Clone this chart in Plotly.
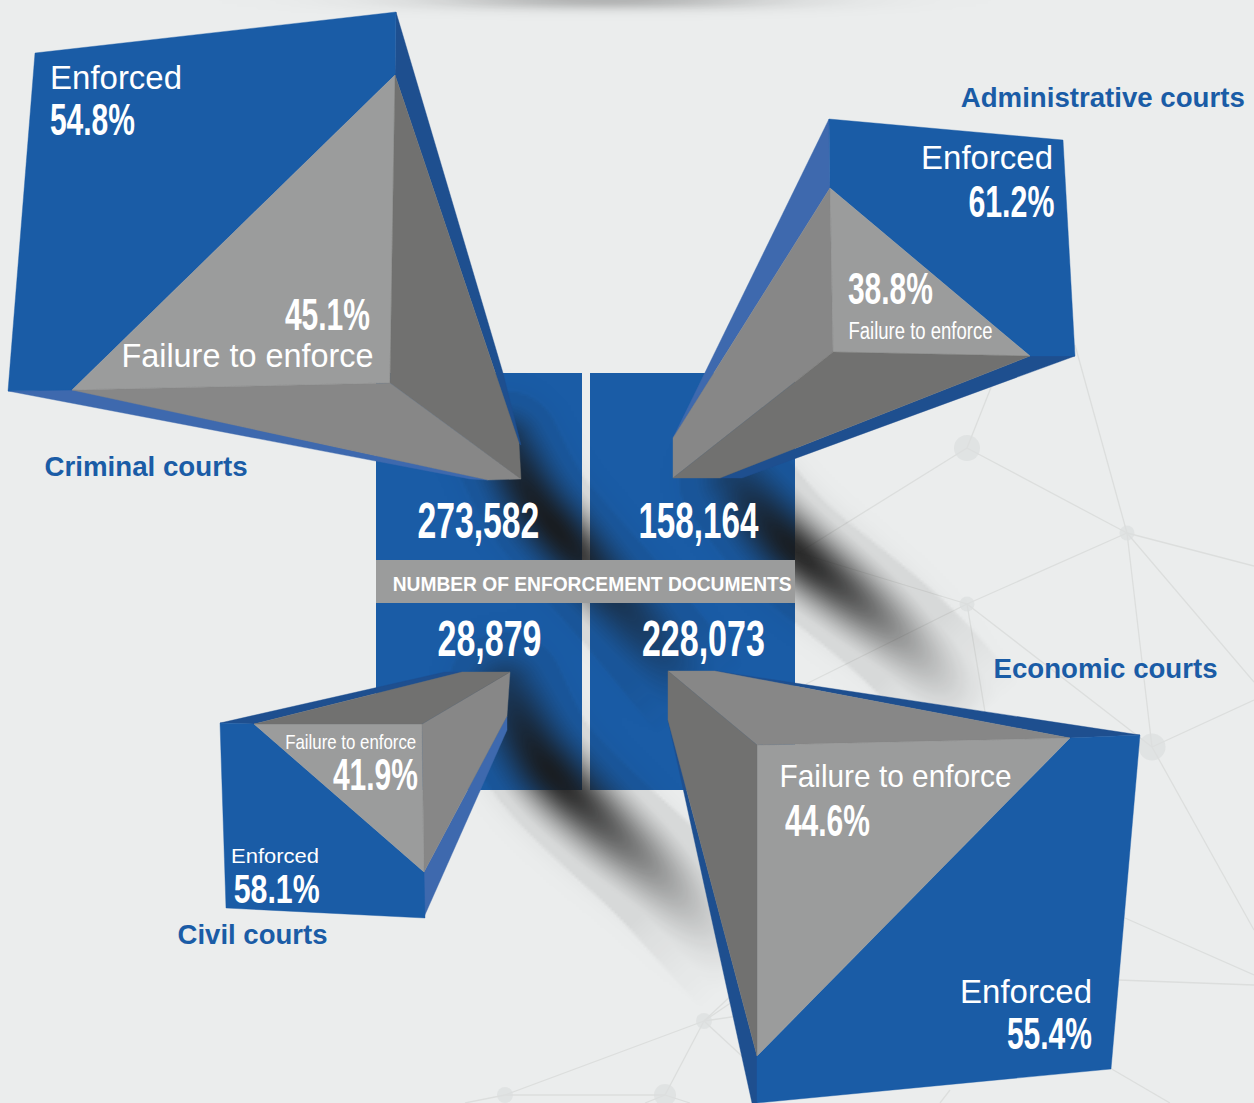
import json
import numpy as np
import plotly.graph_objects as go

# ---- Chart values ----
courts = ["Criminal courts", "Administrative courts", "Civil courts", "Economic courts"]
documents = ["273,582", "158,164", "28,879", "228,073"]
enforced_pct = ["54.8%", "61.2%", "58.1%", "55.4%"]
failure_pct = ["45.1%", "38.8%", "41.9%", "44.6%"]
band_title = "NUMBER OF ENFORCEMENT DOCUMENTS"
enforced_label = "Enforced"
failure_label = "Failure to enforce"

W, H = 1254, 1103
BG = "#ebeded"
BLUE = "#1a5ca6"
DKBLUE = "#1e4f8f"
LTBLUE = "#3e69ae"
G1 = "#9b9c9c"
G2 = "#878787"
G3 = "#717170"
NET = "#dcdedd"
NODE = "#dcdede"
TXT = "Liberation Sans, sans-serif"

# ---- Decorative network behind the chart ----
net_nodes = [(967, 448, 26), (1127, 533, 15), (967, 604, 15), (1152, 747, 27),
             (704, 1021, 16), (505, 1095, 16), (665, 1095, 22)]
net_links = [((967, 448), (992, 385)), ((967, 448), (800, 552)), ((967, 448), (1127, 533)),
             ((1127, 533), (1075, 345)), ((1127, 533), (1254, 566)), ((1127, 533), (1152, 747)),
             ((1127, 533), (1254, 682)), ((1127, 533), (967, 604)), ((967, 604), (796, 552)),
             ((967, 604), (806, 684)), ((967, 604), (985, 712)), ((967, 604), (1152, 747)),
             ((1152, 747), (1254, 700)), ((1152, 747), (1254, 930)), ((1125, 918), (1254, 975)),
             ((1118, 980), (1254, 985)), ((1110, 1068), (1170, 1103)), ((704, 1021), (505, 1095)),
             ((704, 1021), (665, 1095)), ((704, 1021), (757, 1070)), ((704, 1021), (738, 1016)),
             ((704, 1021), (735, 992)), ((704, 1021), (735, 1000)),
             ((505, 1095), (665, 1095)), ((505, 1095), (465, 1103)), ((950, 1090), (940, 1103)),
             ((665, 1095), (690, 1103)), ((665, 1095), (645, 1103))]

# ---- Central blocks ----
blocks = [(376, 373, 582, 560), (590, 373, 795, 560), (376, 603, 582, 790), (590, 603, 795, 790)]
band_rect = (376, 560, 795, 603)

# ---- Pyramids (colour, outline) ----
faces = [
    # criminal
    (DKBLUE, [(396, 12), (503, 373), (521, 445), (519, 443), (395, 75)]),
    (LTBLUE, [(8, 391), (72, 389), (488, 480), (470, 479)]),
    (BLUE, [(35, 53), (396, 12), (395, 75), (72, 390), (8, 391)]),
    (G1, [(395, 75), (390, 383), (72, 390)]),
    (G3, [(395, 75), (519, 443), (521, 479), (390, 383)]),
    (G2, [(72, 390), (390, 383), (521, 479), (488, 480)]),
    # administrative
    (DKBLUE, [(1075, 356), (1030, 356), (720, 478), (742, 478)]),
    (LTBLUE, [(829, 119), (830, 188), (673, 438)]),
    (BLUE, [(829, 119), (1063, 140), (1075, 356), (1030, 356), (830, 188)]),
    (G1, [(830, 188), (833, 352), (1030, 356)]),
    (G2, [(830, 188), (833, 352), (673, 478), (673, 438)]),
    (G3, [(833, 352), (1030, 356), (720, 478), (673, 478)]),
    # civil
    (DKBLUE, [(220, 723), (254, 724), (462, 672), (445, 672)]),
    (LTBLUE, [(424, 872), (424, 917), (507, 730), (507, 716)]),
    (BLUE, [(220, 723), (254, 724), (424, 872), (425, 918), (226, 908)]),
    (G1, [(254, 724), (422, 724), (424, 872)]),
    (G2, [(422, 724), (424, 872), (507, 716), (510, 672)]),
    (G3, [(254, 724), (422, 724), (510, 672), (462, 672)]),
    # economic
    (DKBLUE, [(1140, 735), (1070, 738), (715, 671), (795, 683)]),
    (DKBLUE, [(668, 720), (757, 1056), (757, 1103), (752, 1103)]),
    (BLUE, [(1140, 735), (1111, 1069), (757, 1103), (757, 1056), (1070, 738)]),
    (G1, [(757, 745), (1070, 738), (757, 1056)]),
    (G2, [(668, 671), (715, 671), (1070, 738), (757, 745)]),
    (G3, [(668, 671), (757, 745), (757, 1056), (668, 720)]),
]

# ---- Soft shadow paths: (centre line, half width, strength along the line) ----
shadows = [
    ([(505, 445), (532, 500), (565, 540), (610, 590), (660, 650), (700, 700)], 56,
     [0.7, 0.9, 0.97, 0.62, 0.38, 0.0]),
    ([(735, 480), (765, 520), (797, 553), (847, 592), (897, 633), (940, 677), (975, 720)], 58,
     [0.45, 0.8, 0.97, 0.74, 0.42, 0.17, 0.0]),
    ([(505, 690), (530, 745), (555, 778), (604, 825), (655, 870), (700, 920), (745, 970)], 60,
     [0.55, 0.85, 0.97, 0.7, 0.42, 0.16, 0.0]),
]


def smooth(values, rounds=3):
    v = np.array(values, float)
    for _ in range(rounds):
        q = 0.75 * v[:-1] + 0.25 * v[1:]
        r = 0.25 * v[:-1] + 0.75 * v[1:]
        mid = np.empty((2 * len(q),) + v.shape[1:])
        mid[0::2] = q
        mid[1::2] = r
        v = np.concatenate([v[:1], mid, v[-1:]])
    return v


def shadow_field():
    step = 3
    xs = np.arange(0, W + step, step)
    ys = np.arange(0, H + step, step)
    X, Y = np.meshgrid(xs, ys)
    total = np.ones_like(X, dtype=float)
    for pts, hw, amp in shadows:
        p = smooth(pts)
        s = smooth(amp)
        best = np.full(X.shape, 1e9)
        strength = np.zeros(X.shape)
        for i in range(len(p) - 1):
            a, b = p[i], p[i + 1]
            ab = b - a
            t = np.clip(((X - a[0]) * ab[0] + (Y - a[1]) * ab[1]) / ab.dot(ab), 0, 1)
            d = np.hypot(X - a[0] - t * ab[0], Y - a[1] - t * ab[1])
            m = d < best
            best[m] = d[m]
            strength[m] = (s[i] + (s[i + 1] - s[i]) * t)[m]
        core = np.exp(-(best / (hw * 0.55)) ** 2) * strength
        blade = 0.09 * np.clip((hw - best) / 3, 0, 1) * np.clip(strength * 3, 0, 1)
        total *= 1 - np.maximum(core, blade)
    # soft grey ellipse cut by the top edge
    top = 0.27 * np.exp(-((X - 605) / 170.0) ** 2) * np.exp(-(Y / 9.0) ** 2)
    total *= 1 - top
    return xs, ys, np.round(1 - total, 3)


fig = go.Figure()

# base layer
for (a, b) in net_links:
    fig.add_trace(go.Scatter(x=[a[0], b[0]], y=[a[1], b[1]], mode="lines",
                             line=dict(color=NET, width=1.3), hoverinfo="skip", showlegend=False))
fig.add_trace(go.Scatter(x=[n[0] for n in net_nodes], y=[n[1] for n in net_nodes], mode="markers",
                         marker=dict(color=NODE, size=[n[2] for n in net_nodes], line=dict(width=0)),
                         hoverinfo="skip", showlegend=False))
for x0, y0, x1, y1 in blocks:
    fig.add_trace(go.Scatter(x=[x0, x1, x1, x0, x0], y=[y0, y0, y1, y1, y0], mode="lines",
                             fill="toself", fillcolor=BLUE, line=dict(width=0),
                             hoverinfo="skip", showlegend=False))

# shadow layer
sx, sy, sz = shadow_field()
fig.add_trace(go.Heatmap(x=sx, y=sy, z=sz, xaxis="x2", yaxis="y2", zmin=0, zmax=1, zsmooth="best",
                         colorscale=[[0, "rgba(25,25,25,0)"], [1, "rgba(25,25,25,1)"]],
                         showscale=False, hoverinfo="skip"))

# top layer
x0, y0, x1, y1 = band_rect
fig.add_trace(go.Scatter(x=[x0, x1, x1, x0, x0], y=[y0, y0, y1, y1, y0], xaxis="x3", yaxis="y3",
                         mode="lines", fill="toself", fillcolor=G1, line=dict(width=0),
                         hoverinfo="skip", showlegend=False))
for col, pts in faces:
    fig.add_trace(go.Scatter(x=[p[0] for p in pts] + [pts[0][0]], y=[p[1] for p in pts] + [pts[0][1]],
                             xaxis="x3", yaxis="y3", mode="lines", fill="toself", fillcolor=col,
                             line=dict(width=0.4, color=col), hoverinfo="skip", showlegend=False))

fits = []


def label(text, left, right, y, size, bold=False, color="white"):
    """Text fitted between two x positions (the browser squeezes the glyphs to the width)."""
    fig.add_annotation(x=(left + right) / 2, y=y, xref="x3", yref="y3", text=text, showarrow=False,
                       xanchor="center", yanchor="middle", borderpad=0, borderwidth=0,
                       font=dict(size=size, family=TXT, color=color, weight=700 if bold else 400))
    fits.append(right - left)


NS = 50
label(documents[0], 417, 539, 521, NS, True)
label(documents[1], 638, 758, 521, NS, True)
label(documents[2], 437, 541, 639, NS, True)
label(documents[3], 642, 765, 639, NS, True)
label(band_title, 392, 791, 583, 21, True)

PS = 44
label(enforced_label, 50, 182, 77, 33)
label(enforced_pct[0], 50, 135, 119, PS, True)
label(failure_pct[0], 285, 370, 314, PS, True)
label(failure_label, 121, 373, 355, 33)

label(enforced_label, 921, 1053, 157, 33)
label(enforced_pct[1], 968, 1054, 201, PS, True)
label(failure_pct[1], 848, 933, 288, PS, True)
label(failure_label, 848, 992, 331, 23)

label(failure_label, 285, 416, 741, 21)
label(failure_pct[2], 333, 418, 774, PS, True)
label(enforced_label, 231, 319, 855, 21)
label(enforced_pct[2], 233, 319, 889, 40, True)

label(failure_label, 779, 1011, 776, 32)
label(failure_pct[3], 785, 870, 820, PS, True)
label(enforced_label, 960, 1092, 991, 33)
label(enforced_pct[3], 1007, 1092, 1033, PS, True)

label(courts[0], 44, 247, 467, 27, True, BLUE)
label(courts[1], 961, 1245, 98, 27, True, BLUE)
label(courts[2], 177, 327, 935, 27, True, BLUE)
label(courts[3], 993, 1217, 669, 27, True, BLUE)

ax = dict(range=[0, W], visible=False, fixedrange=True)
ay = dict(range=[H, 0], visible=False, fixedrange=True)
fig.update_layout(
    width=W, height=H, margin=dict(l=0, r=0, t=0, b=0), showlegend=False,
    paper_bgcolor=BG, plot_bgcolor=BG,
    xaxis=ax, yaxis=ay,
    xaxis2=dict(ax, overlaying="x"), yaxis2=dict(ay, overlaying="y"),
    xaxis3=dict(ax, overlaying="x"), yaxis3=dict(ay, overlaying="y"),
)
squeeze = """
document.body.style.margin='0';document.body.style.background='%s';
var fits=%s;
function squeeze(){
  var t=document.querySelectorAll('.annotation-text');
  t.forEach(function(n,i){n.setAttribute('textLength',fits[i]);n.setAttribute('lengthAdjust','spacingAndGlyphs');});
}
squeeze();
""" % (BG, json.dumps(fits))
fig.write_html("out.html", config=dict(displayModeBar=False), post_script=squeeze)
